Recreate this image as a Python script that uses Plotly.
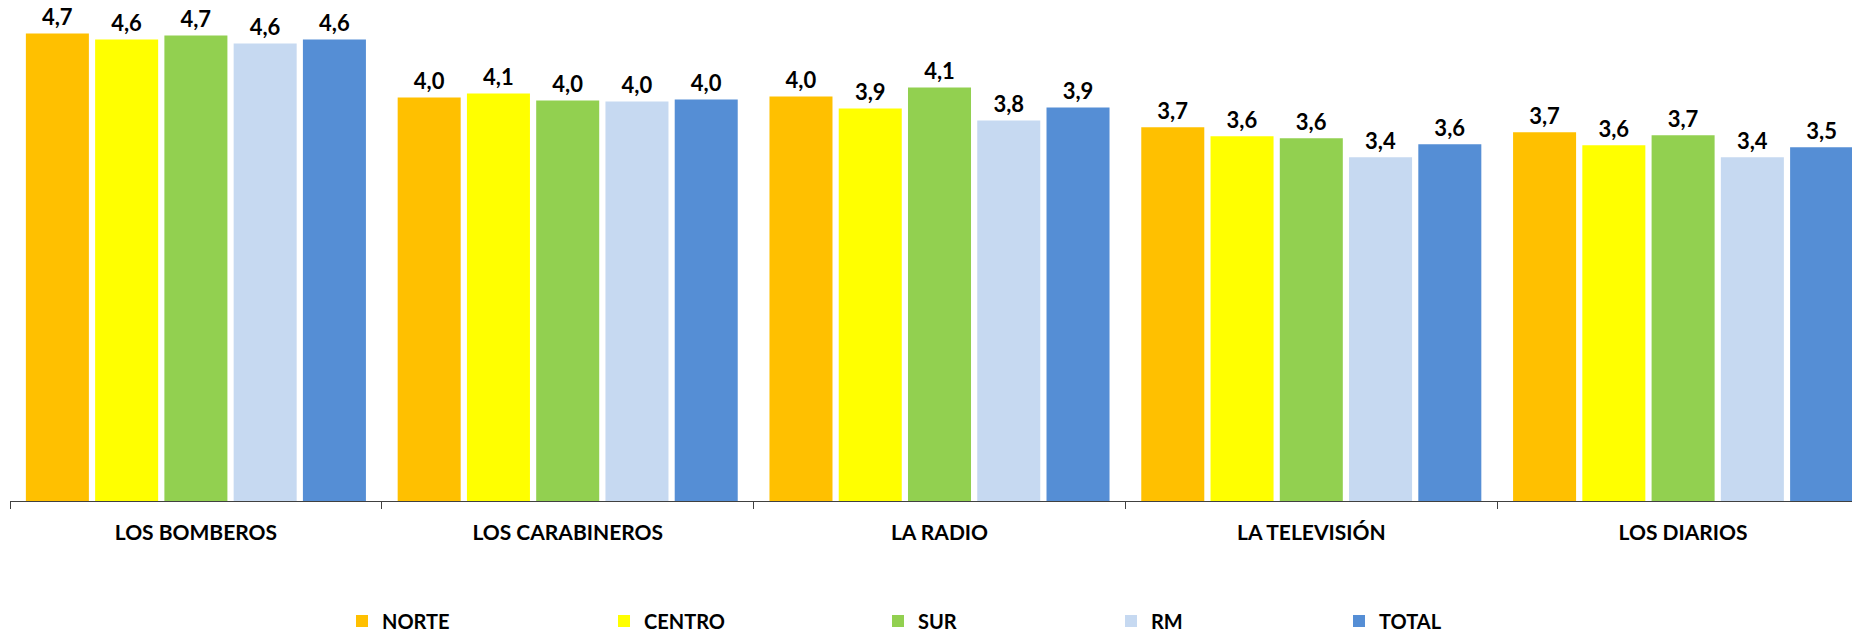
import plotly.graph_objects as go

categories = ["LOS BOMBEROS", "LOS CARABINEROS", "LA RADIO", "LA TELEVISIÓN", "LOS DIARIOS"]
series_names = ["NORTE", "CENTRO", "SUR", "RM", "TOTAL"]
norte = [4.68, 4.04, 4.05, 3.74, 3.69]
centro = [4.62, 4.08, 3.93, 3.65, 3.56]
sur = [4.66, 4.01, 4.14, 3.63, 3.66]
rm = [4.58, 4.00, 3.81, 3.44, 3.44]
total = [4.62, 4.02, 3.94, 3.57, 3.54]
series_values = [norte, centro, sur, rm, total]
colors = ["#FFC000", "#FFFF00", "#92D050", "#C6D9F1", "#558ED5"]

# The page body adds an 8px offset; size the figure so it ends at the window edge.
OFF = 8
W, H = 1860 - OFF, 629 - OFF
AXIS_Y = 501 - OFF          # baseline position inside the figure
ML, MR, MT = 10 - OFF, 0, 0
MB = H - AXIS_Y
plot_w = W - ML - MR
plot_h = H - MT - MB
CAT_W = 371.8
PX_PER_UNIT = 99.9
FONT = "Lato"

# legend swatch left edges in window pixels
legend_px = [357, 619, 893, 1126, 1354]
legend_names = ["legend", "legend2", "legend3", "legend4", "legend5"]

fig = go.Figure()
for i, (name, vals, col) in enumerate(zip(series_names, series_values, colors)):
    labels = [f"{v:.1f}".replace(".", ",") for v in vals]
    fig.add_trace(go.Bar(
        x=categories, y=vals, name=name,
        marker=dict(color=col, line=dict(width=0)),
        text=labels, textposition="outside", cliponaxis=False,
        textfont=dict(family=FONT, size=22, color="black", weight="bold"),
        legend=legend_names[i],
        hoverinfo="x+y+name",
    ))

layout_legends = {}
for i, ln in enumerate(legend_names):
    fig_x = legend_px[i] - OFF - 15
    layout_legends[ln] = dict(
        orientation="h", x=(fig_x - ML) / plot_w, xanchor="left",
        y=-((621 - OFF) - AXIS_Y) / plot_h, yanchor="middle",
        font=dict(family=FONT, size=20, color="black", weight="bold"),
        bgcolor="rgba(0,0,0,0)", itemwidth=30,
    )

fig.update_layout(
    width=W, height=H,
    margin=dict(l=ML, r=MR, t=MT, b=MB, autoexpand=False),
    paper_bgcolor="white", plot_bgcolor="white",
    barmode="group", bargap=0.0686, bargroupgap=0.09,
    showlegend=True,
    xaxis=dict(
        type="category", range=[-0.5, -0.5 + plot_w / CAT_W],
        showline=True, linecolor="#404040", linewidth=1,
        ticks="outside", tickson="boundaries", ticklen=7, tickcolor="#404040", tickwidth=1,
        tickfont=dict(family=FONT, size=21, color="black", weight="bold"),
        ticklabelstandoff=13,
        showgrid=False, zeroline=False,
    ),
    yaxis=dict(
        range=[0, plot_h / PX_PER_UNIT], visible=False, showgrid=False, zeroline=False,
    ),
    **layout_legends,
)

fig.write_html("out.html")
